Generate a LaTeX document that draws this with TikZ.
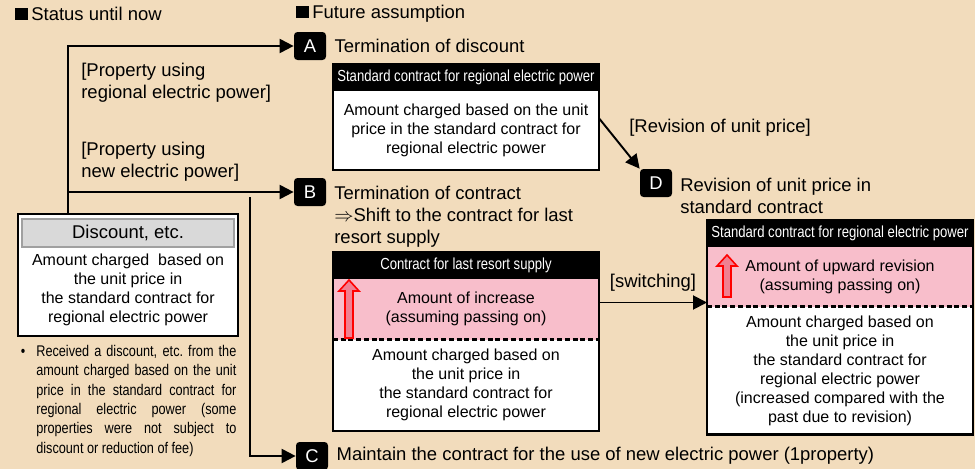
\documentclass[tikz,border=0pt]{standalone}
\usepackage{fontspec}
\setmainfont{Liberation Sans}
\newfontfamily\narrowfont{Liberation Sans}[FakeStretch=0.82]
\usepackage{tikz}
\usetikzlibrary{positioning,arrows.meta}
\usepackage{xcolor}
\definecolor{bgtan}{RGB}{242,220,188}
\definecolor{incpink}{RGB}{248,190,203}
\definecolor{arrpink}{RGB}{240,128,145}
\definecolor{barfill}{RGB}{217,217,217}
\definecolor{barline}{RGB}{160,160,160}
\newcommand{\bigfont}{\fontsize{10.5pt}{12.5pt}\selectfont}
\newcommand{\bodyfont}{\fontsize{9.1pt}{10.8pt}\selectfont}
\newcommand{\hdrfont}{\narrowfont\fontsize{9.1pt}{10.8pt}\selectfont}
\newcommand{\notefont}{\narrowfont\fontsize{8.8pt}{11pt}\selectfont}
\newcommand{\sqmark}{\rule[0.3pt]{0.25cm}{0.24cm}\kern2pt}
\newcommand{\incarrow}[3]{%
  \draw[incr] (#1-0.08,#2) -- (#1-0.08,#3-0.22) -- (#1-0.2,#3-0.22) -- (#1,#3)
    -- (#1+0.2,#3-0.22) -- (#1+0.08,#3-0.22) -- (#1+0.08,#2) -- cycle;}

\begin{document}
\begin{tikzpicture}[
  box/.style={draw, line width=1.2pt},
  hdr/.style={fill=black, text=white, font=\hdrfont, minimum width=5.32cm, minimum height=0.53cm, inner sep=0, outer sep=0},
  plain/.style={fill=white, font=\bodyfont, align=center, minimum width=5.32cm, inner sep=0, outer sep=0},
  inc/.style={plain, fill=incpink},
  badge/.style={fill=black, text=white, rounded corners=2pt, minimum width=0.64cm, minimum height=0.56cm, inner sep=0, font=\bigfont},
  heading/.style={font=\bigfont, align=left, inner sep=0},
  arr/.style={-{Triangle[length=0.28cm,width=0.28cm]}, line width=1.1pt},
  cut/.style={line width=1.4pt, dash pattern=on 2.8pt off 1.6pt},
  incr/.style={draw=red, fill=arrpink, line width=0.9pt}
]
% Background
\useasboundingbox (0,0) rectangle (19.5,-9.38);
\fill[bgtan] (0,0) rectangle (19.5,-9.38);

% Section titles
\node[heading, anchor=west] (now_title) at (0.3,-0.28) {\sqmark Status until now};
\node[heading, anchor=west] (fut_title) at (5.92,-0.28) {\sqmark Future assumption};

% Status until now
\node[box, fill=white, minimum width=4.4cm, minimum height=2.44cm, anchor=north west] (disc) at (0.34,-4.26) {};
\node[plain, fill=barfill, draw=barline, line width=1pt, font=\bigfont, minimum width=4.24cm, minimum height=0.56cm, anchor=north] (disc_hdr) at ([yshift=-0.12cm]disc.north) {Discount, etc.};
\node[plain, fill=none, minimum width=4.24cm, minimum height=1.72cm, below=0pt of disc_hdr] (disc_body) {Amount charged\ \ based on\\the unit price in\\the standard contract for\\regional electric power};
\node[anchor=north west, text width=4.0cm, align=justify, font=\notefont, inner sep=0] (disc_note) at (0.72,-6.90) {\hyphenpenalty=10000\exhyphenpenalty=10000\noindent\llap{•\hspace{0.22cm}}Received a discount, etc.\ from the\linebreak amount charged based on the unit\linebreak price in the standard contract for\linebreak regional electric power (some\linebreak properties were not subject to\linebreak discount or reduction of fee)};

% Branch labels
\node[heading, anchor=north west] (prop_a) at (1.62,-1.26) {[Property using\\regional electric power]};
\node[heading, anchor=north west] (prop_b) at (1.62,-2.84) {[Property using\\new electric power]};

% A: termination of discount
\node[badge] (badge_a) at (6.2,-0.92) {A};
\node[heading, right=0.16cm of badge_a] (head_a) {Termination of discount};
\node[hdr, anchor=north west] (a_hdr) at (6.66,-1.28) {Standard contract for regional electric power};
\node[plain, minimum height=1.59cm, below=0pt of a_hdr] (a_body) {Amount charged based on the unit\\price in the standard contract for\\regional electric power};
\draw[box] (a_hdr.north west) rectangle (a_body.south east);

% B: termination of contract
\node[badge] (badge_b) at (6.2,-3.84) {B};
\node[heading, anchor=north west] (head_b) at (6.68,-3.71) {Termination of contract\\$\Rightarrow$Shift to the contract for last\\resort supply};
\node[hdr, anchor=north west] (b_hdr) at (6.66,-5.04) {Contract for last resort supply};
\node[inc, minimum height=1.22cm, below=0pt of b_hdr] (b_inc) {Amount of increase\\(assuming passing on)};
\node[plain, minimum height=1.83cm, below=0pt of b_inc] (b_base) {Amount charged based on\\the unit price in\\the standard contract for\\regional electric power};
\draw[box] (b_hdr.north west) rectangle (b_base.south east);
\draw[cut] (b_inc.south west) -- (b_inc.south east);
\incarrow{6.98}{-6.76}{-5.60}

% C: maintain contract
\node[badge] (badge_c) at (6.24,-9.12) {C};
\node[heading, right=0.16cm of badge_c] (head_c) {Maintain the contract for the use of new electric power (1property)};

% D: revision of unit price
\node[badge] (badge_d) at (13.12,-3.66) {D};
\node[heading, anchor=north west] (head_d) at (13.6,-3.55) {Revision of unit price in\\standard contract};
\node[hdr, anchor=north west] (d_hdr) at (14.14,-4.40) {Standard contract for regional electric power};
\node[inc, minimum height=1.20cm, below=0pt of d_hdr] (d_inc) {Amount of upward revision\\(assuming passing on)};
\node[plain, minimum height=2.56cm, below=0pt of d_inc] (d_base) {Amount charged based on\\the unit price in\\the standard contract for\\regional electric power\\(increased compared with the\\past due to revision)};
\draw[box] (d_hdr.north west) rectangle (d_base.south east);
\draw[cut] (d_inc.south west) -- (d_inc.south east);
\incarrow{14.54}{-5.94}{-5.10}

% Arrows
\coordinate (disc_top) at ([xshift=1.02cm]disc.north west);
\coordinate (c_split) at (5.0,-3.94);
\coordinate (sw_from) at ([yshift=0.13cm]b_inc.east);
\draw[arr] (disc_top) |- (badge_a.west);
\draw[arr] (disc_top |- badge_b.west) -- (badge_b.west);
\draw[arr] (c_split) |- (badge_c.west);
\draw[arr] ([yshift=0.24cm]a_body.east) -- (badge_d.north west);
\node[heading, anchor=west] (rev_lbl) at (12.58,-2.56) {[Revision of unit price]};
\draw[arr] (sw_from) -- node[heading, above=0.2cm] (sw_lbl) {[switching]} (sw_from -| d_inc.west);
\end{tikzpicture}
\end{document}
